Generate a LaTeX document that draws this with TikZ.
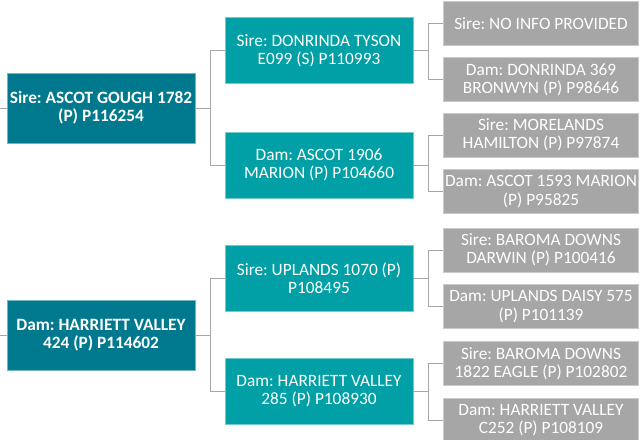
\documentclass[tikz,border=0pt]{standalone}
\usepackage{fontspec}
\setmainfont{Carlito}
\frenchspacing
\definecolor{gone}{HTML}{00788E}
\definecolor{gtwo}{HTML}{00A0A6}
\definecolor{gthree}{HTML}{A6A6A6}
\definecolor{conn}{HTML}{A6A6A6}
\begin{document}
\begin{tikzpicture}[x=1pt,y=-1pt,
  box/.style={rectangle, inner sep=0pt, align=center, text=white, font=\fontsize{17.3}{18.2}\selectfont, line width=0.7pt},
  boxone/.style={box, fill=gone, draw=gone!55!white, minimum width=188pt, minimum height=70pt, font=\fontsize{17.3}{18.4}\selectfont\bfseries},
  boxtwo/.style={box, fill=gtwo, draw=gtwo!55!white, minimum width=188pt, minimum height=66pt},
  boxthree/.style={box, fill=gthree, draw=gthree!60!white, minimum width=195pt, minimum height=44pt},
  link/.style={draw=conn, line width=1pt}]
\useasboundingbox (0,0) rectangle (644,439);
% generation 1
\node[boxone] (s) at (101,108) {Sire: ASCOT GOUGH 1782\\(P) P116254};
\node[boxone] (d) at (101,335) {Dam: HARRIETT VALLEY\\424 (P) P114602};
% generation 2
\node[boxtwo] (ss) at (319,50.5) {Sire: DONRINDA TYSON\\E099 (S) P110993};
\node[boxtwo] (sd) at (319,165) {Dam: ASCOT 1906\\MARION (P) P104660};
\node[boxtwo] (ds) at (319,278) {Sire: UPLANDS 1070 (P)\\P108495};
\node[boxtwo] (dd) at (319,391) {Dam: HARRIETT VALLEY\\285 (P) P108930};
% generation 3
\node[boxthree] (sss) at (541,23.5) {Sire: NO INFO PROVIDED};
\node[boxthree] (ssd) at (541,79.5) {Dam: DONRINDA 369\\BRONWYN (P) P98646};
\node[boxthree] (sds) at (541,135) {Sire: MORELANDS\\HAMILTON (P) P97874};
\node[boxthree] (sdd) at (541,191.5) {Dam: ASCOT 1593 MARION\\(P) P95825};
\node[boxthree] (dss) at (541,250) {Sire: BAROMA DOWNS\\DARWIN (P) P100416};
\node[boxthree] (dsd) at (541,306.5) {Dam: UPLANDS DAISY 575\\(P) P101139};
\node[boxthree] (dds) at (541,363.5) {Sire: BAROMA DOWNS\\1822 EAGLE (P) P102802};
\node[boxthree] (ddd) at (541,420) {Dam: HARRIETT VALLEY\\C252 (P) P108109};
% connectors
\coordinate (ls) at (0,108);
\coordinate (ld) at (0,335);
\draw[link] (ls) -- (s.west);
\draw[link] (ld) -- (d.west);
\draw[link] (s.east) -- ++(15,0) |- (ss.west);
\draw[link] (s.east) -- ++(15,0) |- (sd.west);
\draw[link] (d.east) -- ++(15,0) |- (ds.west);
\draw[link] (d.east) -- ++(15,0) |- (dd.west);
\draw[link] (ss.east) -- ++(15,0) |- (sss.west);
\draw[link] (ss.east) -- ++(15,0) |- (ssd.west);
\draw[link] (sd.east) -- ++(15,0) |- (sds.west);
\draw[link] (sd.east) -- ++(15,0) |- (sdd.west);
\draw[link] (ds.east) -- ++(15,0) |- (dss.west);
\draw[link] (ds.east) -- ++(15,0) |- (dsd.west);
\draw[link] (dd.east) -- ++(15,0) |- (dds.west);
\draw[link] (dd.east) -- ++(15,0) |- (ddd.west);
\end{tikzpicture}
\end{document}
